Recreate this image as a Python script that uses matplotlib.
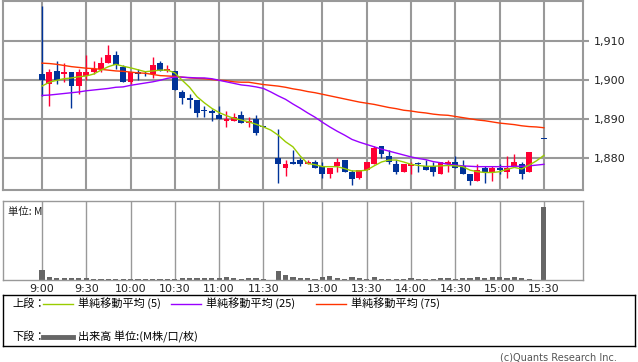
import matplotlib
matplotlib.use('Agg')
import matplotlib.pyplot as plt
import numpy as np

nan = np.nan

# 5-minute bars, 9:00 .. 15:30 (index 31 = lunch gap, 67 = closing auction wait)
opens = [1901.5, 1899, 1902.5, 1901.5, 1902, 1898.5, 1901, 1902, 1903, 1904.5,
         1906.5, 1903.5, 1899.5, 1902, 1902, 1901.5, 1904.5, 1902.5, 1902.5, 1897,
         1895.5, 1895, 1892, 1892, 1891, 1889.5, 1889.5, 1891, 1889, 1890,
         1888, nan, 1880, 1877.5, 1879, 1879.5, 1878.5, 1879, 1878, 1876,
         1878, 1879.5, 1876.5, 1875, 1877, 1878.5, 1883, 1880.5, 1878.5, 1876.5,
         1878, 1878.5, 1878, 1878, 1876, 1878.5, 1879, 1878, 1876, 1874,
         1877.5, 1876.5, 1877.5, 1876.5, 1878, 1878.5, 1876.5, nan, 1885]
highs = [1919, 1903, 1905, 1904.5, 1902, 1903, 1906.5, 1905, 1906, 1909,
         1907.5, 1904, 1902, 1903, 1902.5, 1906, 1905, 1904, 1902.5, 1897.5,
         1896.5, 1895, 1893.5, 1892.5, 1893.5, 1892, 1891.5, 1892, 1890.5, 1891,
         1888, nan, 1887.5, 1879.5, 1882, 1880, 1879.5, 1879.5, 1879, 1877.5,
         1880, 1879.5, 1877, 1877, 1879, 1883, 1883, 1882, 1879.5, 1878,
         1879, 1879, 1879.5, 1879, 1879, 1879.5, 1880.5, 1879.5, 1876, 1878.5,
         1878, 1878, 1878.5, 1880.5, 1881, 1879, 1881.5, nan, 1885]
lows = [1896, 1893.5, 1899, 1899.5, 1893, 1896.5, 1900, 1901.5, 1902, 1904.5,
        1903, 1899.5, 1899, 1900, 1901, 1900.5, 1902.5, 1902, 1897.5, 1894,
        1893, 1890.5, 1890.5, 1889.5, 1890, 1888, 1889.5, 1889, 1888, 1886,
        1888, nan, 1873.5, 1875.5, 1878.5, 1878, 1878.5, 1877.5, 1875, 1875,
        1876.5, 1876.5, 1873, 1874.5, 1877, 1878.5, 1880, 1878.5, 1876, 1876.5,
        1876, 1876.5, 1877, 1875.5, 1876, 1876.5, 1877.5, 1876, 1873, 1874,
        1873.5, 1874, 1876, 1875, 1878, 1874.5, 1876.5, nan, 1885]
closes = [1900, 1902, 1900, 1902, 1898.5, 1902, 1902, 1903, 1904.5, 1906.5,
          1904, 1899.5, 1902, 1901.5, 1902, 1904, 1902.5, 1903, 1897.5, 1895.5,
          1895, 1891.5, 1892, 1891.5, 1890, 1890, 1890.5, 1889, 1889.5, 1886.5,
          1888, nan, 1878.5, 1878.5, 1878.5, 1878.5, 1879, 1877.5, 1876, 1877.5,
          1879, 1876.5, 1874.5, 1877, 1879, 1882.5, 1881, 1879, 1876.5, 1878.5,
          1878.5, 1878.5, 1877, 1876.5, 1879, 1879, 1877.5, 1876, 1874, 1877,
          1876.5, 1877.5, 1877, 1877.5, 1879, 1876, 1881.5, nan, 1885]

ma5 = [1898.5, 1899.5, 1900.0, 1900.4, 1900.6, 1900.9, 1901.1, 1901.6, 1902.6, 1903.5,
       1904.1, 1903.6, 1903.2, 1902.7, 1902.2, 1902.4, 1902.6, 1902.6, 1901.9, 1900.0,
       1898.2, 1895.8, 1894.2, 1892.8, 1891.7, 1890.9, 1890.2, 1889.8, 1889.3, 1888.7,
       1888.0, 1887.2, 1885.9, 1884.2, 1882.9, 1880.5, 1878.6, 1878.3, 1877.8, 1877.8,
       1877.8, 1877.3, 1876.7, 1876.7, 1876.9, 1878.0, 1879.0, 1879.5, 1879.5, 1879.0,
       1878.4, 1878.1, 1877.9, 1877.9, 1878.0, 1878.1, 1878.0, 1877.8, 1876.9, 1876.5,
       1876.3, 1876.3, 1876.5, 1877.1, 1877.6, 1877.2, 1878.2, 1879.3, 1880.7]
ma25 = [1896.1, 1896.2, 1896.4, 1896.6, 1896.8, 1897.0, 1897.3, 1897.5, 1897.7, 1897.9,
        1898.2, 1898.3, 1898.7, 1899.0, 1899.3, 1899.6, 1900.0, 1900.5, 1900.8, 1900.8,
        1900.7, 1900.6, 1900.6, 1900.4, 1900.0, 1899.6, 1899.2, 1898.8, 1898.6, 1898.3,
        1897.9, 1897.0, 1896.0, 1895.1, 1893.9, 1892.8, 1891.6, 1890.5, 1889.2, 1888.0,
        1886.9, 1885.9, 1884.8, 1884.1, 1883.5, 1882.9, 1882.3, 1881.8, 1881.3, 1880.8,
        1880.3, 1879.9, 1879.6, 1879.1, 1878.8, 1878.4, 1878.2, 1878.0, 1877.9, 1877.8,
        1877.8, 1877.8, 1877.8, 1877.8, 1877.9, 1877.9, 1878.0, 1878.2, 1878.4]
ma75 = [1904.4, 1904.3, 1904.1, 1903.8, 1903.5, 1903.3, 1903.1, 1903.0, 1902.8, 1902.6,
        1902.4, 1902.3, 1902.1, 1901.9, 1901.8, 1901.5, 1901.2, 1901.1, 1901.0, 1900.8,
        1900.6, 1900.5, 1900.4, 1900.2, 1900.0, 1899.9, 1899.6, 1899.5, 1899.5, 1899.2,
        1898.9, 1898.7, 1898.5, 1898.2, 1897.8, 1897.5, 1897.1, 1896.8, 1896.4, 1896.0,
        1895.6, 1895.2, 1894.8, 1894.4, 1894.1, 1893.8, 1893.4, 1893.0, 1892.7, 1892.3,
        1892.1, 1891.8, 1891.6, 1891.3, 1891.1, 1891.0, 1890.7, 1890.4, 1890.1, 1889.8,
        1889.6, 1889.3, 1889.0, 1888.8, 1888.6, 1888.3, 1888.1, 1888.0, 1887.8]

# volume in M
volume = [0.30, 0.10, 0.06, 0.06, 0.06, 0.06, 0.06, 0.04, 0.04, 0.04,
          0.04, 0.02, 0.04, 0.04, 0.02, 0.03, 0.02, 0.02, 0.04, 0.06,
          0.06, 0.06, 0.06, 0.06, 0.06, 0.09, 0.05, 0.04, 0.06, 0.06,
          0.02, 0.0, 0.27, 0.16, 0.10, 0.07, 0.05, 0.04, 0.10, 0.12,
          0.06, 0.04, 0.09, 0.06, 0.04, 0.09, 0.04, 0.04, 0.04, 0.04,
          0.06, 0.04, 0.04, 0.04, 0.06, 0.06, 0.04, 0.06, 0.06, 0.09,
          0.06, 0.09, 0.09, 0.06, 0.09, 0.06, 0.04, 0.0, 2.19]

tick_pos = [0, 6, 12, 18, 24, 30, 38, 44, 50, 56, 62, 68]
tick_labels = ['9:00', '9:30', '10:00', '10:30', '11:00', '11:30',
               '13:00', '13:30', '14:00', '14:30', '15:00', '15:30']
price_ticks = [1880, 1890, 1900, 1910]

UP = '#ff0033'
DOWN = '#003399'
GRID = '#999999'
C5, C25, C75 = '#99cc00', '#9900ff', '#ff3300'
JP = ['Noto Sans CJK JP', 'DejaVu Sans']

fig = plt.figure(figsize=(6.38, 3.62), dpi=100)
W, H = 638.0, 362.0
XL = (-5.28, 73.3)

# ---- price panel
ax = fig.add_axes([3 / W, 1 - 190 / H, 580 / W, 189.5 / H])
ax.set_xlim(*XL)
ax.set_ylim(1871.8, 1920.5)
for p in price_ticks:
    ax.axhline(p, color=GRID, lw=1.5, zorder=0)
for t in tick_pos:
    ax.axvline(t, color=GRID, lw=1.5, zorder=0)
for s in ax.spines.values():
    s.set_color(GRID)
    s.set_linewidth(1.5)

x = np.arange(len(opens))
o = np.array(opens); c = np.array(closes); hi = np.array(highs); lo = np.array(lows)
ok = ~np.isnan(o)
up = ok & (c > o)
dn = ok & ~(c > o)
for mask, col in ((up, UP), (dn, DOWN)):
    ax.vlines(x[mask], lo[mask], hi[mask], color=col, lw=1.0, zorder=2)
    bot = np.minimum(o[mask], c[mask])
    hgt = np.maximum(np.abs(c[mask] - o[mask]), 0.25)
    ax.bar(x[mask], hgt, bottom=bot, width=0.8, color=col, lw=0, zorder=3)

ax.plot(x, ma75, color=C75, lw=1.0, zorder=4)
ax.plot(x, ma25, color=C25, lw=1.0, zorder=4)
ax.plot(x, ma5, color=C5, lw=1.0, zorder=4)

ax.set_xticks([])
ax.yaxis.tick_right()
ax.set_yticks(price_ticks)
ax.set_yticklabels([f'{p:,}' for p in price_ticks], fontsize=8, color='#222222')
ax.tick_params(axis='y', length=4, width=1.5, color=GRID, pad=4)

# ---- volume panel
axv = fig.add_axes([3 / W, 1 - 280 / H, 580 / W, 79 / H])
axv.set_xlim(*XL)
axv.set_ylim(0, 2.37)
for t in tick_pos:
    axv.axvline(t, color=GRID, lw=1.0, zorder=0)
for s in axv.spines.values():
    s.set_color(GRID)
    s.set_linewidth(1.0)
axv.bar(x, volume, width=0.7, color='#666666', lw=0, zorder=2)
axv.set_yticks([])
axv.set_xticks(tick_pos)
axv.set_xticklabels(tick_labels, fontsize=8, color='#222222')
axv.tick_params(axis='x', length=0, pad=3)
axv.text(5 / 580, 0.93, '単位: M', transform=axv.transAxes, fontsize=7.5,
         family=JP, va='top', ha='left', color='#222222')

# ---- legend box
axl = fig.add_axes([3 / W, 1 - 346 / H, 632 / W, 51 / H])
axl.set_xlim(0, 632)
axl.set_ylim(51, 0)
axl.set_xticks([]); axl.set_yticks([])
for s in axl.spines.values():
    s.set_color('black')
    s.set_linewidth(1.0)
ty1, ty2 = 8.5, 42
axl.text(9, ty1, '上段：', fontsize=8, family=JP, va='center')
for x0, col, lab in ((40, C5, '単純移動平均 (5)'), (168, C25, '単純移動平均 (25)'),
                     (313, C75, '単純移動平均 (75)')):
    axl.plot([x0, x0 + 30], [ty1, ty1], color=col, lw=1.0)
    axl.text(x0 + 35, ty1, lab, fontsize=8, family=JP, va='center')
axl.text(9, ty2, '下段：', fontsize=8, family=JP, va='center')
axl.plot([40, 70], [ty2, ty2], color='#666666', lw=3.5)
axl.text(75, ty2, '出来高 単位:(M株/口/枚)', fontsize=8, family=JP, va='center')

fig.text(617 / W, 1 - 357 / H, '(c)Quants Research Inc.', fontsize=7,
         color='#555555', ha='right', va='center')

fig.savefig('out.png', dpi=100)
